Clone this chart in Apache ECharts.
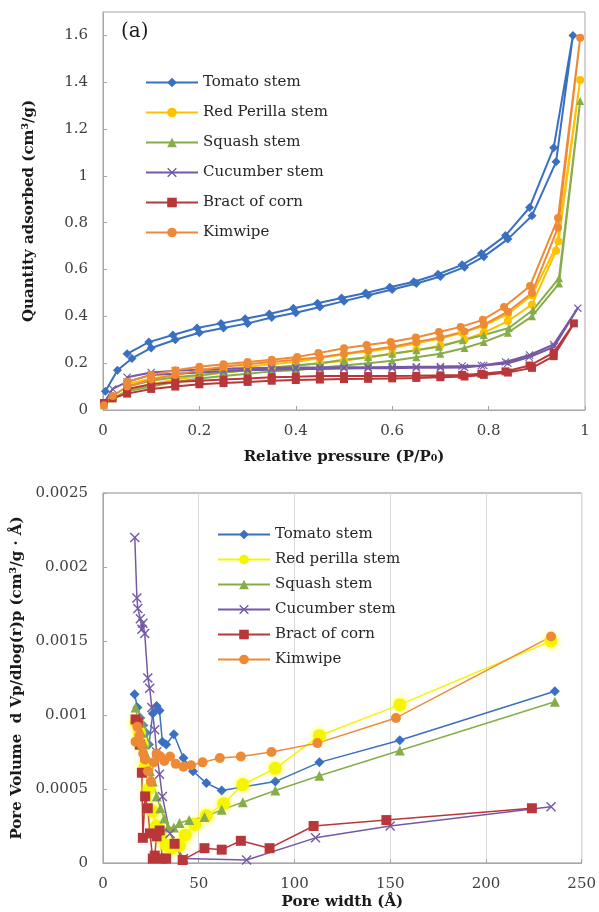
<!DOCTYPE html>
<html>
<head>
<meta charset="utf-8">
<script src="https://cdn.jsdelivr.net/npm/echarts@6/dist/echarts.min.js"></script>
<style>
html, body { margin: 0; padding: 0; background: #fff; }
#chart { width: 599px; height: 912px; }
</style>
</head>
<body>
<div id="chart"></div>
<script>
// (a) isotherms: adsorption branch then desorption branch, P/P0 and quantity
var tomatoP = [0.005, 0.03, 0.06, 0.1, 0.15, 0.2, 0.25, 0.3, 0.35, 0.4, 0.45, 0.5, 0.55, 0.6, 0.65, 0.7, 0.75, 0.79, 0.84, 0.89, 0.94, 0.975,
               0.935, 0.885, 0.835, 0.785, 0.745, 0.695, 0.645, 0.595, 0.545, 0.495, 0.445, 0.395, 0.345, 0.295, 0.245, 0.195, 0.145, 0.095, 0.05];
var tomatoQ = [0.08, 0.17, 0.22, 0.265, 0.3, 0.33, 0.35, 0.37, 0.395, 0.415, 0.44, 0.465, 0.49, 0.515, 0.54, 0.57, 0.61, 0.655, 0.73, 0.83, 1.06, 1.6,
               1.12, 0.865, 0.745, 0.668, 0.62, 0.58, 0.548, 0.524, 0.5, 0.478, 0.456, 0.435, 0.41, 0.39, 0.37, 0.35, 0.32, 0.29, 0.24];

var perillaP = [0.002, 0.02, 0.05, 0.1, 0.15, 0.2, 0.25, 0.3, 0.35, 0.4, 0.45, 0.5, 0.55, 0.6, 0.65, 0.7, 0.75, 0.79, 0.84, 0.89, 0.94, 0.99,
                0.945, 0.89, 0.84, 0.79, 0.745, 0.7, 0.65, 0.6, 0.55, 0.5, 0.45, 0.4, 0.35, 0.3, 0.25, 0.2, 0.15, 0.1, 0.05];
var perillaQ = [0.02, 0.05, 0.08, 0.11, 0.13, 0.145, 0.16, 0.17, 0.18, 0.19, 0.2, 0.21, 0.225, 0.24, 0.255, 0.275, 0.3, 0.33, 0.38, 0.45, 0.68, 1.41,
                0.72, 0.49, 0.41, 0.36, 0.33, 0.305, 0.285, 0.265, 0.25, 0.238, 0.222, 0.205, 0.195, 0.185, 0.175, 0.165, 0.15, 0.135, 0.11];

var squashP = [0.002, 0.02, 0.05, 0.1, 0.15, 0.2, 0.25, 0.3, 0.35, 0.4, 0.45, 0.5, 0.55, 0.6, 0.65, 0.7, 0.75, 0.79, 0.84, 0.89, 0.946, 0.99,
               0.946, 0.892, 0.842, 0.79, 0.746, 0.697, 0.65, 0.6, 0.55, 0.5, 0.45, 0.4, 0.35, 0.3, 0.25, 0.2, 0.15, 0.1, 0.05];
var squashQ = [0.02, 0.05, 0.08, 0.1, 0.12, 0.135, 0.145, 0.155, 0.165, 0.17, 0.18, 0.19, 0.2, 0.21, 0.225, 0.24, 0.265, 0.29, 0.33, 0.4, 0.54, 1.32,
               0.563, 0.427, 0.35, 0.32, 0.298, 0.27, 0.255, 0.24, 0.225, 0.215, 0.2, 0.19, 0.18, 0.17, 0.16, 0.15, 0.14, 0.125, 0.1];

var cucumberP = [0.002, 0.02, 0.05, 0.1, 0.15, 0.2, 0.25, 0.3, 0.35, 0.4, 0.45, 0.5, 0.55, 0.6, 0.65, 0.7, 0.75, 0.79, 0.84, 0.884, 0.936, 0.985,
                 0.935, 0.885, 0.835, 0.785, 0.745, 0.7, 0.65, 0.6, 0.55, 0.5, 0.45, 0.4, 0.35, 0.3, 0.25, 0.2, 0.15, 0.1, 0.05];
var cucumberQ = [0.03, 0.09, 0.12, 0.15, 0.155, 0.16, 0.165, 0.17, 0.172, 0.175, 0.175, 0.177, 0.178, 0.178, 0.18, 0.18, 0.182, 0.19, 0.2, 0.225, 0.27, 0.435,
                 0.28, 0.235, 0.205, 0.19, 0.188, 0.186, 0.185, 0.184, 0.183, 0.183, 0.182, 0.182, 0.18, 0.178, 0.175, 0.172, 0.168, 0.16, 0.14];

var bractP = [0.002, 0.02, 0.05, 0.1, 0.15, 0.2, 0.25, 0.3, 0.35, 0.4, 0.45, 0.5, 0.55, 0.6, 0.65, 0.7, 0.75, 0.79, 0.84, 0.89, 0.935, 0.977,
              0.935, 0.885, 0.835, 0.785, 0.745, 0.7, 0.65, 0.6, 0.55, 0.5, 0.45, 0.4, 0.35, 0.3, 0.25, 0.2, 0.15, 0.1, 0.05];
var bractQ = [0.03, 0.05, 0.07, 0.09, 0.1, 0.11, 0.115, 0.12, 0.125, 0.128, 0.13, 0.132, 0.133, 0.135, 0.137, 0.14, 0.143, 0.15, 0.16, 0.18, 0.23, 0.37,
              0.245, 0.19, 0.165, 0.155, 0.15, 0.148, 0.146, 0.145, 0.145, 0.145, 0.145, 0.142, 0.14, 0.135, 0.13, 0.125, 0.12, 0.11, 0.09];

var kimwipeP = [0.002, 0.02, 0.05, 0.1, 0.15, 0.2, 0.25, 0.3, 0.35, 0.4, 0.45, 0.5, 0.55, 0.6, 0.65, 0.7, 0.75, 0.79, 0.84, 0.89, 0.944, 0.99,
                0.944, 0.886, 0.832, 0.788, 0.742, 0.697, 0.649, 0.597, 0.547, 0.5, 0.447, 0.403, 0.35, 0.3, 0.25, 0.2, 0.15, 0.1, 0.05];
var kimwipeQ = [0.02, 0.06, 0.1, 0.13, 0.15, 0.17, 0.185, 0.195, 0.205, 0.215, 0.225, 0.24, 0.255, 0.27, 0.29, 0.31, 0.335, 0.365, 0.42, 0.5, 0.78, 1.59,
                0.82, 0.53, 0.44, 0.385, 0.355, 0.333, 0.31, 0.29, 0.278, 0.264, 0.243, 0.226, 0.215, 0.205, 0.195, 0.185, 0.17, 0.15, 0.12];

// (b) pore size distribution: pore width (A) and dVp/dlog(r)p
var tomatoW = [16.5, 18, 19.5, 21, 22.5, 24, 26, 28, 29.5, 31, 33, 37, 42, 47, 54, 62, 90, 113, 155, 236];
var tomatoV = [0.00114, 0.00105, 0.00098, 0.00093, 0.00088, 0.0008, 0.00101, 0.00106, 0.00103, 0.00082, 0.0008, 0.00087, 0.00071, 0.00062, 0.00054, 0.00049, 0.00055, 0.00068, 0.00083, 0.00116];

var perillaW = [17.5, 19, 20.5, 22, 24, 26, 28, 30, 33, 36, 40, 43, 48, 54, 63, 73, 90, 113, 155, 234];
var perillaV = [0.00095, 0.00088, 0.0008, 0.00065, 0.0005, 0.00035, 0.00025, 0.00018, 0.00012, 0.0001, 0.00012, 0.00019, 0.00026, 0.00032, 0.0004, 0.00053, 0.00064, 0.00086, 0.00107, 0.0015];

var squashW = [17, 18.5, 20, 21.5, 23, 24.5, 26, 28, 30, 32, 34, 37, 40, 45, 53, 62, 73, 90, 113, 155, 236];
var squashV = [0.00105, 0.00095, 0.00088, 0.0008, 0.00072, 0.00062, 0.00055, 0.00045, 0.00037, 0.0003, 0.00024, 0.00024, 0.00027, 0.00029, 0.00031, 0.00036, 0.00041, 0.00049, 0.00059, 0.00076, 0.00109];

var cucumberW = [16.6, 17.7, 18.2, 19.5, 20.3, 20.8, 21.8, 23.4, 24.4, 25.5, 27, 28, 29.5, 31, 35, 42, 75, 111, 150, 234];
var cucumberV = [0.0022, 0.00179, 0.00172, 0.00165, 0.00158, 0.00162, 0.00155, 0.00125, 0.00118, 0.00105, 0.0009, 0.00075, 0.0006, 0.00045, 0.0002, 0.00003, 0.00002, 0.00017, 0.00025, 0.00038];

var bractW = [17, 18.2, 19.2, 20.3, 20.8, 22, 23.4, 24.5, 26, 27, 28, 29.6, 31, 33, 37.4, 41.6, 53, 62, 72, 87, 110, 148, 224];
var bractV = [0.00097, 0.00095, 0.0008, 0.00061, 0.00017, 0.00045, 0.00037, 0.0002, 0.00003, 0.00005, 0.00018, 0.00022, 0.00003, 0.00003, 0.00013, 0.00002, 0.0001, 0.00009, 0.00015, 0.0001, 0.00025, 0.00029, 0.00037];

var kimwipeW = [17, 18, 19, 20, 21, 22, 23.5, 25, 26.5, 28, 30, 32, 35, 38, 42, 46, 52, 61, 72, 88, 112, 153, 234];
var kimwipeV = [0.00082, 0.00092, 0.00086, 0.0008, 0.00074, 0.0007, 0.00062, 0.00055, 0.00068, 0.00074, 0.00072, 0.00069, 0.00072, 0.00067, 0.00065, 0.00066, 0.00068, 0.00071, 0.00072, 0.00075, 0.00081, 0.00098, 0.00153];

var topNames = ['Tomato stem', 'Red Perilla stem', 'Squash stem', 'Cucumber stem', 'Bract of corn', 'Kimwipe'];
var bottomNames = ['Tomato stem', 'Red perilla stem', 'Squash stem', 'Cucumber stem', 'Bract of corn', 'Kimwipe'];

var font = 'DejaVu Serif';
var crossPath = 'path://M0,1L1,0L5,4L9,0L10,1L6,5L10,9L9,10L5,6L1,10L0,9L4,5Z';

function pairs(xs, ys) {
    return xs.map(function (x, i) { return [x, ys[i]]; });
}

function mk(name, idx, xs, ys, color, symbol, size, lw) {
    return {
        name: name,
        type: 'line',
        xAxisIndex: idx,
        yAxisIndex: idx,
        data: pairs(xs, ys),
        symbol: symbol,
        symbolSize: size,
        showAllSymbol: true,
        animation: false,
        lineStyle: { color: color, width: lw },
        itemStyle: { color: color }
    };
}

var C = {
    tomato: '#3a70c0',
    perilla: '#ffc000',
    squash: '#86ad4a',
    cucumber: '#7559a6',
    bract: '#b8373a',
    kimwipe: '#ee8a35'
};

var series = [
    mk(topNames[0], 0, tomatoP, tomatoQ, C.tomato, 'diamond', 9, 2),
    mk(topNames[1], 0, perillaP, perillaQ, C.perilla, 'circle', 8, 2),
    mk(topNames[2], 0, squashP, squashQ, C.squash, 'triangle', 8, 2),
    mk(topNames[3], 0, cucumberP, cucumberQ, C.cucumber, crossPath, 8, 2),
    mk(topNames[4], 0, bractP, bractQ, C.bract, 'rect', 8, 2),
    mk(topNames[5], 0, kimwipeP, kimwipeQ, C.kimwipe, 'circle', 8, 2),

    mk(bottomNames[0], 1, tomatoW, tomatoV, C.tomato, 'diamond', 10, 1.5),
    mk(bottomNames[1], 1, perillaW, perillaV, '#f5f500', 'circle', 13, 1.5),
    mk(bottomNames[2], 1, squashW, squashV, C.squash, 'triangle', 10, 1.5),
    mk(bottomNames[3], 1, cucumberW, cucumberV, C.cucumber, crossPath, 10, 1.5),
    mk(bottomNames[4], 1, bractW, bractV, C.bract, 'rect', 10, 1.5),
    mk(bottomNames[5], 1, kimwipeW, kimwipeV, C.kimwipe, 'circle', 10, 1.5)
];
series[7].itemStyle.shadowBlur = 6;
series[7].itemStyle.shadowColor = 'rgba(255,255,0,0.9)';

var labelStyle = { fontFamily: font, fontSize: 15, color: '#404040' };
var nameStyle = { fontFamily: font, fontSize: 15, fontWeight: 'bold', color: '#1a1a1a' };

function axisCommon() {
    return {
        type: 'value',
        axisLine: { show: true, lineStyle: { color: '#a6a6a6' } },
        axisTick: { show: true, inside: true, length: 4, lineStyle: { color: '#a6a6a6' } },
        axisLabel: Object.assign({ margin: 14 }, labelStyle),
        nameLocation: 'middle',
        nameTextStyle: nameStyle,
        splitLine: { show: false }
    };
}

var xTop = Object.assign(axisCommon(), {
    gridIndex: 0, min: 0, max: 1, interval: 0.2,
    name: 'Relative pressure (P/P\u2080)', nameGap: 40
});
var yTop = Object.assign(axisCommon(), {
    gridIndex: 0, min: 0, max: 1.7, interval: 0.2,
    name: 'Quantity adsorbed (cm\u00b3/g)', nameGap: 66
});
yTop.axisLabel = Object.assign({ margin: 15, showMaxLabel: false }, labelStyle);

var xBot = Object.assign(axisCommon(), {
    gridIndex: 1, min: 0, max: 250, interval: 50,
    name: 'Pore width (\u00c5)', nameGap: 32,
    splitLine: { show: true, lineStyle: { color: '#d9d9d9' } }
});
var yBot = Object.assign(axisCommon(), {
    gridIndex: 1, min: 0, max: 0.0025, interval: 0.0005,
    name: 'Pore Volume  d Vp/dlog(r)p (cm\u00b3/g \u00b7 \u00c5)', nameGap: 74
});
yBot.axisLabel = Object.assign({ margin: 15 }, labelStyle);

var legendText = { fontFamily: font, fontSize: 15, color: '#262626' };

var option = {
    backgroundColor: '#ffffff',
    animation: false,
    grid: [
        { left: 103, right: 14, top: 12, height: 398, show: true, borderColor: '#a6a6a6', borderWidth: 1 },
        { left: 103, right: 15, top: 493, height: 370, show: true, borderColor: '#8c8c8c', borderWidth: 1 }
    ],
    graphic: [{
        type: 'text', left: 121, top: 22,
        style: { text: '(a)', fontFamily: font, fontSize: 20, fill: '#1a1a1a' }
    }],
    legend: [
        {
            data: topNames, orient: 'vertical', left: 140, top: 70,
            itemWidth: 52, itemHeight: 12, itemGap: 15, textStyle: legendText
        },
        {
            data: bottomNames, orient: 'vertical', left: 212, top: 522,
            itemWidth: 52, itemHeight: 12, itemGap: 10, textStyle: legendText
        }
    ],
    xAxis: [xTop, xBot],
    yAxis: [yTop, yBot],
    series: series
};

var myChart = echarts.init(document.getElementById('chart'));
myChart.setOption(option);
</script>
</body>
</html>
